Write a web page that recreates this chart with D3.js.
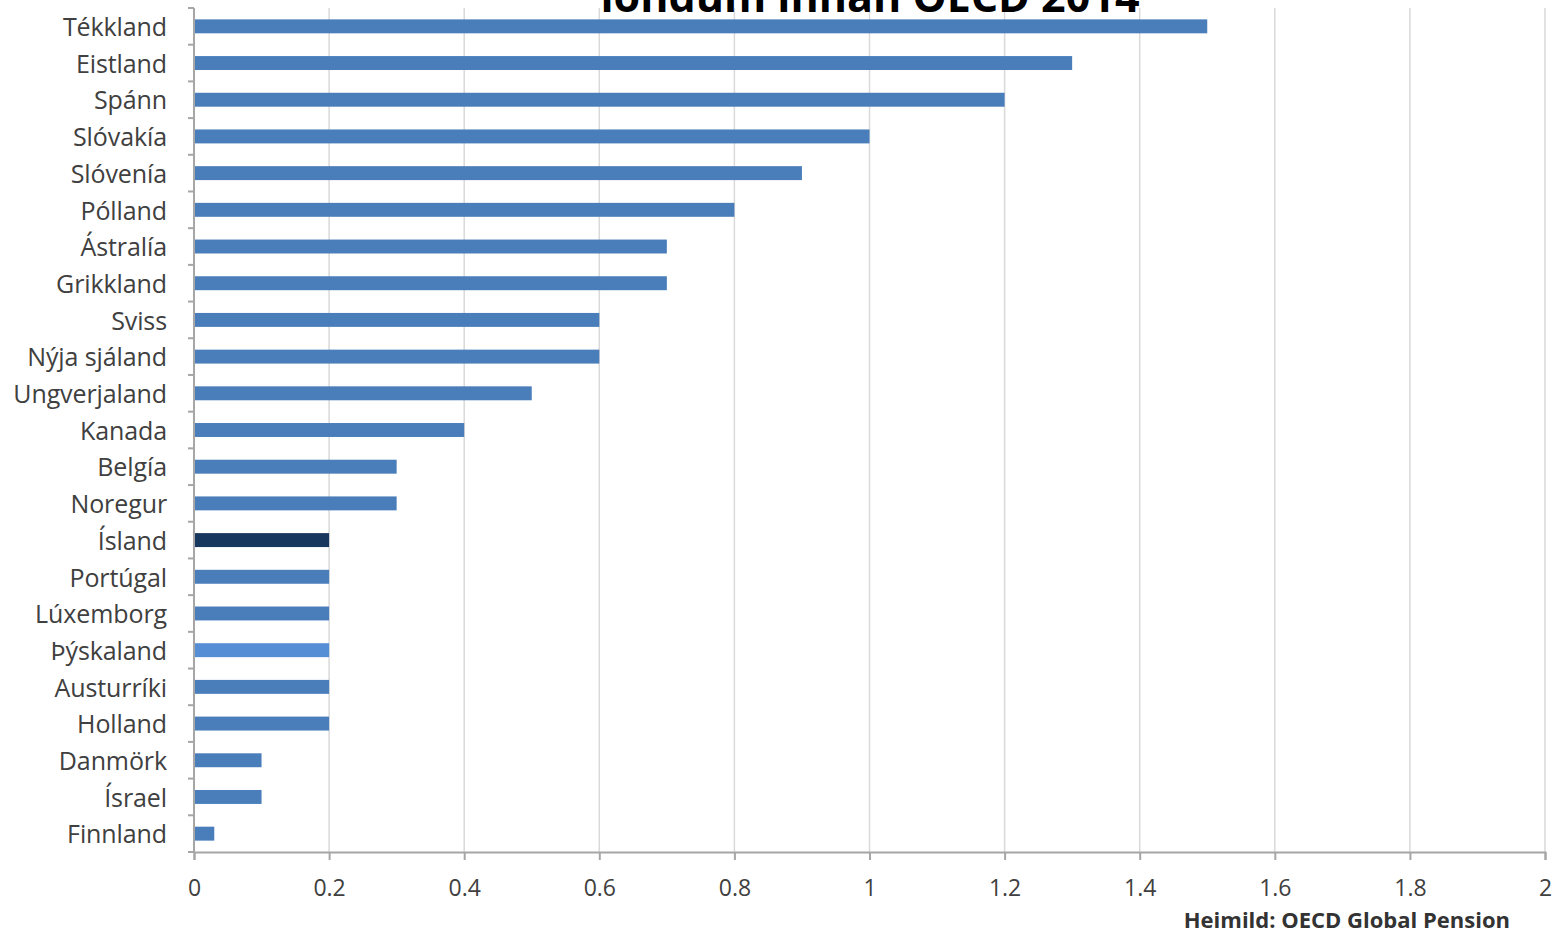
<!DOCTYPE html>
<html>
<head>
<meta charset="utf-8">
<script src="https://cdn.jsdelivr.net/npm/d3@7"></script>
<style>
  body { margin: 0; background: #fff; }
  svg { display: block; font-family: "Open Sans", "Noto Sans", sans-serif; }
</style>
</head>
<body>
<div id="wrapper"></div>
<script>
// data
const countries = ["Tékkland", "Eistland", "Spánn", "Slóvakía", "Slóvenía", "Pólland", "Ástralía",
  "Grikkland", "Sviss", "Nýja sjáland", "Ungverjaland", "Kanada", "Belgía", "Noregur", "Ísland",
  "Portúgal", "Lúxemborg", "Þýskaland", "Austurríki", "Holland", "Danmörk", "Ísrael", "Finnland"]
const values = [1.5, 1.3, 1.2, 1.0, 0.9, 0.8, 0.7, 0.7, 0.6, 0.6, 0.5, 0.4, 0.3, 0.3, 0.2,
  0.2, 0.2, 0.2, 0.2, 0.2, 0.1, 0.1, 0.03]
const xTicks = [0, 0.2, 0.4, 0.6, 0.8, 1, 1.2, 1.4, 1.6, 1.8, 2]
const titleText = "löndum innan OECD 2014"
const sourceText = "Heimild: OECD Global Pension"

const barColor = d => d === "Ísland" ? "#17375e" : d === "Þýskaland" ? "#558ed5" : "#4a7ebb"

const dimensions = {
  width: 1557,
  height: 935,
  margin: { top: 8, right: 12, bottom: 83, left: 194 },
}
dimensions.boundedWidth = dimensions.width - dimensions.margin.left - dimensions.margin.right
dimensions.boundedHeight = dimensions.height - dimensions.margin.top - dimensions.margin.bottom

const wrapper = d3.select("#wrapper")
  .append("svg")
    .attr("width", dimensions.width)
    .attr("height", dimensions.height)

const bounds = wrapper.append("g")
  .attr("transform", `translate(${dimensions.margin.left},${dimensions.margin.top})`)

// scales
const xScale = d3.scaleLinear()
  .domain([0, 2])
  .range([0, dimensions.boundedWidth])

const yScale = d3.scaleBand()
  .domain(countries)
  .range([0, dimensions.boundedHeight])
  .paddingInner(0.62)
  .paddingOuter(0.31)

// gridlines
bounds.append("g")
  .selectAll("line")
  .data(xTicks.slice(1))
  .join("line")
    .attr("x1", d => xScale(d))
    .attr("x2", d => xScale(d))
    .attr("y1", 0)
    .attr("y2", dimensions.boundedHeight)
    .attr("stroke", "#d9d9d9")
    .attr("stroke-width", 1.5)

// bars
bounds.append("g")
  .selectAll("rect")
  .data(countries)
  .join("rect")
    .attr("x", xScale(0) + 1)
    .attr("y", d => yScale(d))
    .attr("width", (d, i) => xScale(values[i]) - xScale(0) - 1)
    .attr("height", yScale.bandwidth())
    .attr("fill", barColor)

// y axis: ticks at category boundaries
const yAxis = bounds.append("g")
const bandEdges = d3.range(countries.length + 1).map(i => i * yScale.step())
yAxis.append("line")
  .attr("x1", 0).attr("x2", 0)
  .attr("y1", 0).attr("y2", dimensions.boundedHeight)
  .attr("stroke", "#a6a6a6")
  .attr("stroke-width", 2)
yAxis.selectAll(".tick-y")
  .data(bandEdges)
  .join("line")
    .attr("class", "tick-y")
    .attr("x1", -6).attr("x2", 0)
    .attr("y1", d => d).attr("y2", d => d)
    .attr("stroke", "#a6a6a6")
    .attr("stroke-width", 2)
yAxis.selectAll("text")
  .data(countries)
  .join("text")
    .attr("x", -27)
    .attr("y", d => yScale(d) + yScale.bandwidth() / 2 + 1)
    .attr("dy", "0.35em")
    .attr("text-anchor", "end")
    .attr("fill", "#404040")
    .style("font-size", "25px")
    .style("letter-spacing", "-0.1px")
    .text(d => d)

// x axis
const xAxisGenerator = d3.axisBottom(xScale)
  .tickValues(xTicks)
  .tickSize(8)
  .tickPadding(20)
  .tickFormat(d => d3.format("~g")(d))

const xAxis = bounds.append("g")
  .attr("transform", `translate(0,${dimensions.boundedHeight})`)
  .call(xAxisGenerator)
xAxis.select(".domain").attr("stroke", "#a6a6a6").attr("stroke-width", 2)
xAxis.selectAll(".tick line").attr("stroke", "#a6a6a6").attr("stroke-width", 2)
xAxis.selectAll(".tick text")
  .attr("fill", "#404040")
  .style("font-size", "23px")
  .style("font-family", "\"Open Sans\", sans-serif")

// title (cut off at top, as in the source image)
wrapper.append("text")
  .attr("x", 870)
  .attr("y", 12)
  .attr("text-anchor", "middle")
  .attr("fill", "#000")
  .style("font-size", "43px")
  .style("font-weight", "bold")
  .text(titleText)

// source
wrapper.append("text")
  .attr("x", 1510)
  .attr("y", 928)
  .attr("text-anchor", "end")
  .attr("fill", "#333")
  .style("font-size", "22px")
  .style("font-weight", "bold")
  .text(sourceText)
</script>
</body>
</html>
